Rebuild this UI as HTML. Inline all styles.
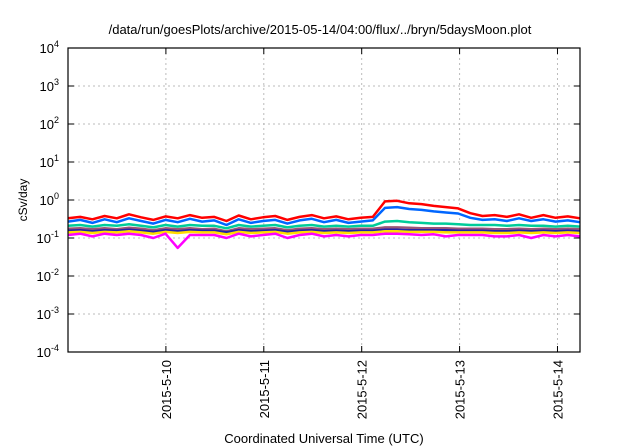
<!DOCTYPE html>
<html><head><meta charset="utf-8"><style>
body{margin:0;background:#fff;font-family:"Liberation Sans",sans-serif}
svg{display:block}
</style></head><body>
<svg id="chart" width="640" height="448" xmlns="http://www.w3.org/2000/svg" font-family="Liberation Sans, sans-serif"></svg>
<script>
const tickDays=["2015-5-10","2015-5-11","2015-5-12","2015-5-13","2015-5-14"];
const tickDayOffsets=[1,2,3,4,5];
const yDecades=[-4,-3,-2,-1,0,1,2,3,4];
const seriesNames=["red","blue","teal","mauve","darkblue","yellow","magenta"];
const seriesColors=["#ff0000","#0066ff","#00cc99","#995577","#2222aa","#ffdd00","#ff00ff"];
const red=[0.33,0.36,0.31,0.38,0.33,0.42,0.35,0.3,0.37,0.33,0.4,0.34,0.36,0.28,0.39,0.31,0.35,0.38,0.3,0.36,0.4,0.33,0.37,0.31,0.34,0.36,0.92,0.95,0.82,0.78,0.7,0.65,0.6,0.45,0.38,0.4,0.36,0.42,0.34,0.4,0.34,0.37,0.33];
const blue=[0.27,0.3,0.25,0.31,0.26,0.33,0.28,0.24,0.3,0.26,0.32,0.27,0.29,0.22,0.31,0.25,0.28,0.3,0.24,0.29,0.32,0.26,0.3,0.25,0.27,0.29,0.62,0.65,0.58,0.55,0.5,0.47,0.44,0.34,0.3,0.31,0.28,0.33,0.28,0.31,0.27,0.29,0.26];
const teal=[0.21,0.22,0.2,0.22,0.21,0.23,0.21,0.19,0.22,0.2,0.22,0.21,0.21,0.18,0.22,0.2,0.21,0.22,0.19,0.21,0.22,0.2,0.21,0.2,0.21,0.21,0.27,0.28,0.26,0.25,0.24,0.24,0.23,0.22,0.22,0.22,0.21,0.22,0.21,0.21,0.2,0.21,0.2];
const mauve=[0.175,0.18,0.17,0.18,0.17,0.185,0.175,0.16,0.18,0.17,0.18,0.17,0.175,0.15,0.18,0.17,0.175,0.18,0.16,0.175,0.18,0.17,0.175,0.17,0.175,0.175,0.19,0.19,0.185,0.18,0.18,0.18,0.175,0.175,0.175,0.17,0.17,0.175,0.17,0.175,0.17,0.175,0.17];
const darkblue=[0.155,0.16,0.15,0.16,0.155,0.165,0.155,0.145,0.16,0.15,0.16,0.155,0.155,0.14,0.16,0.15,0.155,0.16,0.145,0.155,0.16,0.15,0.155,0.15,0.155,0.155,0.165,0.165,0.16,0.16,0.16,0.16,0.155,0.155,0.155,0.15,0.15,0.155,0.15,0.155,0.15,0.155,0.15];
const yellow=[0.14,0.145,0.135,0.145,0.14,0.15,0.14,0.13,0.145,0.135,0.145,0.14,0.14,0.125,0.145,0.135,0.14,0.145,0.13,0.14,0.145,0.135,0.14,0.135,0.14,0.14,0.15,0.15,0.145,0.145,0.145,0.14,0.14,0.14,0.14,0.135,0.135,0.14,0.135,0.14,0.135,0.14,0.135];
const magenta=[0.12,0.13,0.11,0.13,0.12,0.13,0.12,0.1,0.13,0.055,0.12,0.12,0.12,0.1,0.13,0.11,0.12,0.13,0.1,0.12,0.13,0.11,0.12,0.11,0.12,0.12,0.13,0.13,0.125,0.12,0.125,0.11,0.12,0.12,0.12,0.11,0.11,0.12,0.1,0.12,0.11,0.12,0.11];
const allSeries=[red,blue,teal,mauve,darkblue,yellow,magenta];
const L=68,R=580,T=48,B=352,dayMax=5.23;
const xs=d=>L+(d/dayMax)*(R-L);
const ys=v=>B-(Math.log10(v)+4)/8*(B-T);
const svg=document.getElementById('chart');
const NS='http://www.w3.org/2000/svg';
function mk(tag,attrs,parent){const e=document.createElementNS(NS,tag);for(const k in attrs)e.setAttribute(k,attrs[k]);(parent||svg).appendChild(e);return e;}
let t=mk('text',{x:320,y:34,'text-anchor':'middle','font-size':13});t.textContent='/data/run/goesPlots/archive/2015-05-14/04:00/flux/../bryn/5daysMoon.plot';


yDecades.forEach(d=>{const y=B-(d+4)/8*(B-T);
 if(d>-4&&d<4){const g=mk('line',{x1:L,x2:R,y1:y,y2:y,stroke:'#bbb','stroke-dasharray':'2,3','stroke-width':1});}
 mk('line',{x1:L,x2:L+6,y1:y,y2:y,stroke:'#000'});mk('line',{x1:R-6,x2:R,y1:y,y2:y,stroke:'#000'});
 const lb=mk('text',{x:59,y:y+5,'text-anchor':'end','font-size':13});lb.textContent='10';
 
 const s=mk('tspan',{dy:-6,'font-size':9},lb);s.textContent=String(d);});
tickDays.forEach((lab,i)=>{const x=xs(tickDayOffsets[i]);
 const g=mk('line',{x1:x,x2:x,y1:T,y2:B,stroke:'#bbb','stroke-dasharray':'2,3'});
 mk('line',{x1:x,x2:x,y1:B,y2:B-6,stroke:'#000'});mk('line',{x1:x,x2:x,y1:T,y2:T+6,stroke:'#000'});
 const tl=mk('text',{x:0,y:0,'text-anchor':'end','font-size':13,transform:`translate(${x+5},360) rotate(-90)`});tl.textContent=lab;
 });
allSeries.forEach((arr,si)=>{const n=arr.length;
 const pts=arr.map((v,i)=>xs(i*dayMax/(n-1)).toFixed(1)+','+ys(v).toFixed(1)).join(' ');
 const p=mk('polyline',{points:pts,fill:'none',stroke:seriesColors[si],'stroke-width':2.5,'stroke-linejoin':'round'});
 });
const fr=mk('rect',{x:L,y:T,width:R-L,height:B-T,fill:'none',stroke:'#000','stroke-width':1.2});

const yt=mk('text',{x:0,y:0,'text-anchor':'middle','font-size':12,transform:'translate(27,200) rotate(-90)'});yt.textContent='cSv/day';

const xt=mk('text',{x:324,y:443,'text-anchor':'middle','font-size':13});xt.textContent='Coordinated Universal Time (UTC)';

</script>
</body></html>
